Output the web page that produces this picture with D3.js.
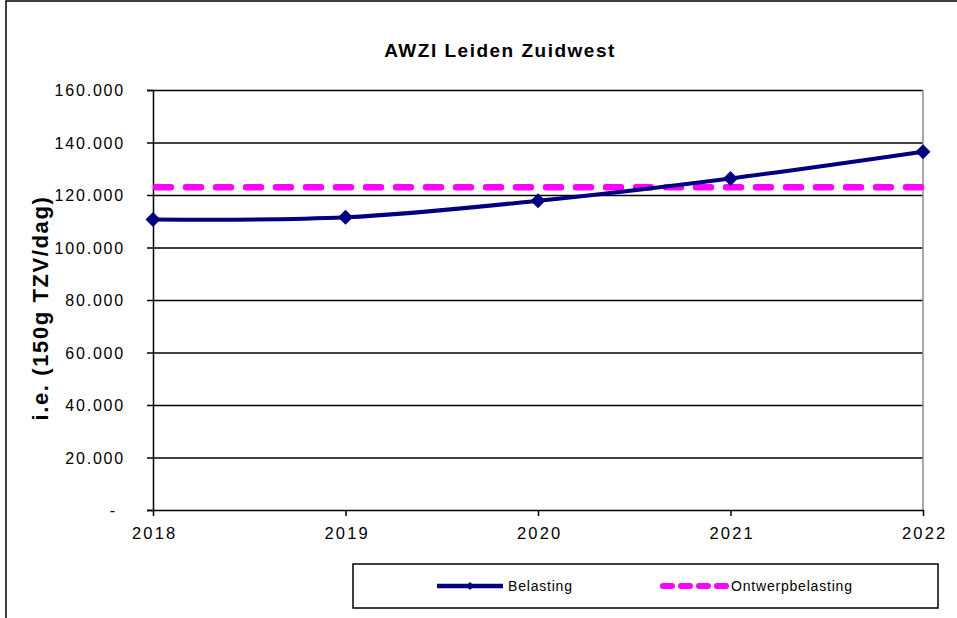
<!DOCTYPE html>
<html>
<head>
<meta charset="utf-8">
<script src="https://cdn.jsdelivr.net/npm/d3@7"></script>
<style>
  html, body { margin: 0; padding: 0; background: #fff; }
  svg { display: block; font-family: "Liberation Sans", Arial, sans-serif; }
</style>
</head>
<body>
<div id="chart"></div>
<script>
// chart data
const years = ['2018', '2019', '2020', '2021', '2022'];
const belasting = [110700, 111500, 117800, 126300, 136500];
const ontwerpbelasting = [123000, 123000, 123000, 123000, 123000];
const yTicks = [0, 20000, 40000, 60000, 80000, 100000, 120000, 140000, 160000];
const seriesNames = ['Belasting', 'Ontwerpbelasting'];

const width = 957;
const height = 618;
const margin = { top: 90, right: 34, bottom: 108, left: 153 };
const innerWidth = width - margin.left - margin.right;
const innerHeight = height - margin.top - margin.bottom;
const navy = '#000080';
const magenta = '#ff00ff';

const root = d3.select('#chart')
  .append('svg')
  .attr('width', width)
  .attr('height', height);

// outer chart frame (runs past the right and bottom edge)
root.append('path')
  .attr('d', `M6,${height}V1H${width}`)
  .attr('fill', 'none')
  .attr('stroke', '#000')
  .attr('stroke-width', 1.5);

// title
root.append('text')
  .attr('x', 500)
  .attr('y', 57)
  .attr('text-anchor', 'middle')
  .style('font-size', '19px')
  .style('font-weight', 'bold')
  .style('letter-spacing', '1.5px')
  .text('AWZI Leiden Zuidwest');

const svg = root.append('g')
  .attr('transform', `translate(${margin.left},${margin.top})`);

const x = d3.scalePoint()
  .domain(years)
  .range([0, innerWidth]);

const y = d3.scaleLinear()
  .domain([0, 160000])
  .range([innerHeight, 0]);

// gridlines
svg.append('g')
  .attr('class', 'y-grid')
  .call(
    d3.axisLeft(y)
      .tickValues(yTicks.slice(1))
      .tickSize(-innerWidth)
      .tickFormat(() => '')
  )
  .call(g => g.select('.domain').remove())
  .call(g => g.selectAll('text').remove())
  .selectAll('line')
  .attr('stroke', '#000')
  .attr('stroke-width', 1.4);

// right border of plot area
svg.append('line')
  .attr('x1', innerWidth)
  .attr('x2', innerWidth)
  .attr('y1', 0)
  .attr('y2', innerHeight)
  .attr('stroke', '#8c8c8c')
  .attr('stroke-width', 1.5);

// y axis
const fmt = d => d === 0 ? '-' : d3.format(',')(d).replace(/,/g, '.');
svg.append('g')
  .attr('class', 'y-axis')
  .call(
    d3.axisLeft(y)
      .tickValues(yTicks)
      .tickSize(6)
      .tickPadding(22)
      .tickFormat(fmt)
  )
  .call(g => g.selectAll('line, path').attr('stroke', '#000').attr('stroke-width', 1.5))
  .call(g => g.selectAll('text')
    .attr('fill', '#000')
    .attr('dy', '0.36em')
    .attr('dx', d => d === 0 ? -8 : 0)
    .style('font-size', '16px')
    .style('letter-spacing', '1.8px')
    .style('font-family', '"Liberation Sans", Arial, sans-serif'));

// x axis
svg.append('g')
  .attr('class', 'x-axis')
  .attr('transform', `translate(0,${innerHeight})`)
  .call(
    d3.axisBottom(x)
      .tickSize(6)
      .tickPadding(11)
      .tickSizeOuter(0)
  )
  .call(g => g.selectAll('line, path').attr('stroke', '#000').attr('stroke-width', 1.5))
  .call(g => g.selectAll('text')
    .attr('fill', '#000')
    .attr('dx', '1.2px')
    .style('font-size', '16.5px')
    .style('letter-spacing', '2.2px')
    .style('font-family', '"Liberation Sans", Arial, sans-serif'));

// y axis label
root.append('text')
  .attr('transform', 'rotate(-90)')
  .attr('x', -308)
  .attr('y', 48)
  .attr('text-anchor', 'middle')
  .style('font-size', '22px')
  .style('font-weight', 'bold')
  .style('letter-spacing', '1.6px')
  .text('i.e. (150g TZV/dag)');

// design load line
const flatLine = d3.line()
  .x((d, i) => x(years[i]))
  .y(d => y(d));

svg.append('path')
  .datum(ontwerpbelasting)
  .attr('d', flatLine)
  .attr('fill', 'none')
  .attr('stroke', magenta)
  .attr('stroke-width', 6.5)
  .attr('stroke-dasharray', '15,15')
  .attr('stroke-linecap', 'round')
  .attr('transform', 'translate(3,0)');

// load line, smoothed like the spreadsheet curve
const smoothLine = d3.line()
  .x((d, i) => x(years[i]))
  .y(d => y(d))
  .curve(d3.curveCardinal.tension(0));

svg.append('path')
  .datum(belasting)
  .attr('d', smoothLine)
  .attr('fill', 'none')
  .attr('stroke', navy)
  .attr('stroke-width', 4);

const diamond = r => `M0,${-r}L${r},0L0,${r}L${-r},0Z`;

svg.selectAll('.marker')
  .data(belasting)
  .enter()
  .append('path')
  .attr('class', 'marker')
  .attr('d', diamond(7.5))
  .attr('transform', (d, i) => `translate(${x(years[i])},${y(d)})`)
  .attr('fill', navy);

// legend
const legend = root.append('g').attr('class', 'legend');

legend.append('rect')
  .attr('x', 353)
  .attr('y', 564)
  .attr('width', 585)
  .attr('height', 44)
  .attr('fill', '#fff')
  .attr('stroke', '#000')
  .attr('stroke-width', 1.5);

const legendY = 586;

legend.append('line')
  .attr('x1', 437)
  .attr('x2', 503)
  .attr('y1', legendY)
  .attr('y2', legendY)
  .attr('stroke', navy)
  .attr('stroke-width', 4.5);

legend.append('path')
  .attr('d', diamond(4))
  .attr('transform', `translate(470,${legendY})`)
  .attr('fill', navy);

legend.append('line')
  .attr('x1', 663)
  .attr('x2', 728)
  .attr('y1', legendY)
  .attr('y2', legendY)
  .attr('stroke', magenta)
  .attr('stroke-width', 6)
  .attr('stroke-dasharray', '9,9')
  .attr('stroke-linecap', 'round');

legend.selectAll('.legend-label')
  .data(seriesNames)
  .enter()
  .append('text')
  .attr('class', 'legend-label')
  .attr('x', (d, i) => i === 0 ? 508 : 731)
  .attr('y', legendY + 5)
  .style('font-size', '14px')
  .style('letter-spacing', '0.8px')
  .text(d => d);
</script>
</body>
</html>
